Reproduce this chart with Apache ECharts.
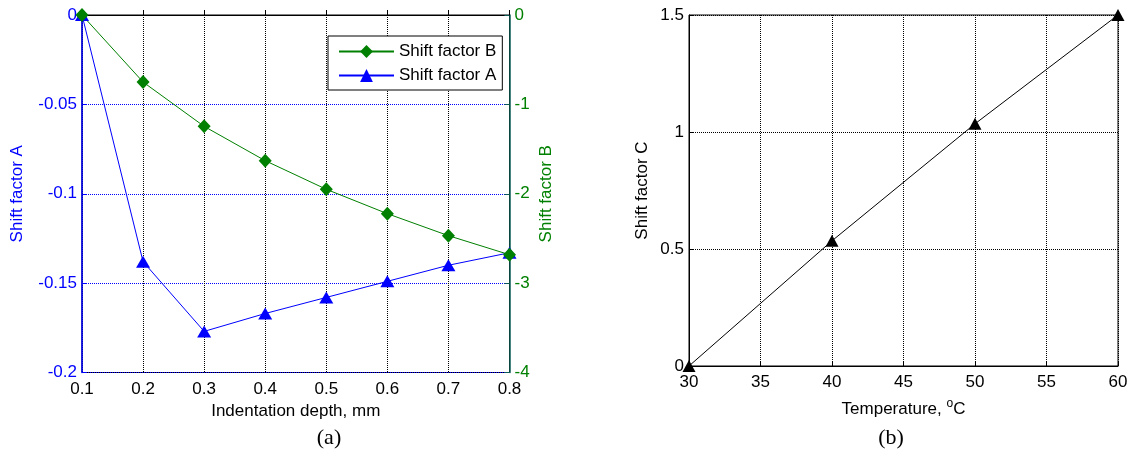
<!DOCTYPE html>
<html>
<head>
<meta charset="utf-8">
<script src="https://cdn.jsdelivr.net/npm/echarts@6/dist/echarts.min.js"></script>
<style>
html,body{margin:0;padding:0;background:#fff;}
#chart{width:1139px;height:453px;}
</style>
</head>
<body>
<div id="chart"></div>
<script>
// ---- data ----
const depth = [0.1, 0.2, 0.3, 0.4, 0.5, 0.6, 0.7, 0.8];
const shiftA = [0, -0.138, -0.177, -0.167, -0.158, -0.149, -0.140, -0.133];
const shiftB = [0, -0.75, -1.246, -1.63, -1.95, -2.223, -2.469, -2.682];
const temperature = [30, 40, 50, 60];
const shiftC = [0, 0.535, 1.035, 1.5];

const FONT = 'Liberation Sans, Arial, sans-serif';
const zip = (xs, ys) => xs.map((x, i) => [x, ys[i]]);
const dotted = [1, 1];

const chart = echarts.init(document.getElementById('chart'), null, {renderer: 'canvas'});
chart.setOption({
  animation: false,
  backgroundColor: '#fff',
  textStyle: {fontFamily: FONT},
  grid: [
    {left: 82, top: 15, width: 427.5, height: 357.5, show: true, borderColor: '#000', borderWidth: 1, backgroundColor: 'transparent'},
    {left: 689, top: 15, width: 429, height: 351, show: true, borderColor: '#000', borderWidth: 1, backgroundColor: 'transparent'}
  ],
  legend: {
    data: ['Shift factor B', 'Shift factor A'],
    orient: 'vertical',
    left: 328, top: 36,
    padding: [7, 6, 6, 10],
    itemGap: 7,
    itemWidth: 55, itemHeight: 16,
    borderColor: '#000', borderWidth: 1, backgroundColor: '#fff',
    textStyle: {fontFamily: FONT, fontSize: 17, color: '#000'}
  },
  xAxis: [
    {
      type: 'value', gridIndex: 0, min: 0.1, max: 0.8, interval: 0.1,
      name: 'Indentation depth, mm', nameLocation: 'middle', nameGap: 30,
      nameTextStyle: {fontFamily: FONT, fontSize: 17, color: '#000'},
      axisLine: {lineStyle: {color: '#000', width: 1}},
      axisTick: {inside: true, length: 5, lineStyle: {color: '#000'}},
      axisLabel: {fontFamily: FONT, fontSize: 17, color: '#000', margin: 8, formatter: v => v.toFixed(1)},
      splitLine: {show: true, lineStyle: {color: '#000', type: dotted, width: 1}}
    },
    {
      type: 'value', gridIndex: 1, min: 30, max: 60, interval: 5,
      name: 'Temperature, {sup|o}C', nameLocation: 'middle', nameGap: 32,
      nameTextStyle: {fontFamily: FONT, fontSize: 17, color: '#000', lineHeight: 22,
        rich: {sup: {fontFamily: FONT, fontSize: 12, color: '#000', verticalAlign: 'top', lineHeight: 12}}},
      axisLine: {lineStyle: {color: '#000', width: 1}},
      axisTick: {inside: true, length: 5, lineStyle: {color: '#000'}},
      axisLabel: {fontFamily: FONT, fontSize: 17, color: '#000', margin: 8},
      splitLine: {show: true, lineStyle: {color: '#000', type: dotted, width: 1}}
    }
  ],
  yAxis: [
    {
      type: 'value', gridIndex: 0, position: 'left', min: -0.2, max: 0, interval: 0.05,
      name: 'Shift factor A', nameLocation: 'middle', nameGap: 56, nameRotate: 90,
      nameTextStyle: {fontFamily: FONT, fontSize: 17, color: '#0000ff'},
      axisLine: {show: true, lineStyle: {color: '#0000ff', width: 1.5}},
      axisTick: {show: true, inside: true, length: 5, lineStyle: {color: '#0000ff'}},
      axisLabel: {fontFamily: FONT, fontSize: 17, color: '#0000ff', margin: 5},
      splitLine: {show: true, lineStyle: {color: '#0000ff', type: dotted, width: 1}}
    },
    {
      type: 'value', gridIndex: 0, position: 'right', min: -4, max: 0, interval: 1,
      name: 'Shift factor B', nameLocation: 'middle', nameGap: 28, nameRotate: 90,
      nameTextStyle: {fontFamily: FONT, fontSize: 17, color: '#008000'},
      axisLine: {show: true, lineStyle: {color: '#0d5c55', width: 1.5}},
      axisTick: {show: true, inside: true, length: 5, lineStyle: {color: '#0d5c55'}},
      axisLabel: {fontFamily: FONT, fontSize: 17, color: '#008000', margin: 5},
      splitLine: {show: false}
    },
    {
      type: 'value', gridIndex: 1, min: 0, max: 1.5, interval: 0.5,
      name: 'Shift factor C', nameLocation: 'middle', nameGap: 38, nameRotate: 90,
      nameTextStyle: {fontFamily: FONT, fontSize: 17, color: '#000'},
      axisLine: {show: true, lineStyle: {color: '#000', width: 1}},
      axisTick: {show: true, inside: true, length: 5, lineStyle: {color: '#000'}},
      axisLabel: {fontFamily: FONT, fontSize: 17, color: '#000', margin: 5},
      splitLine: {show: true, lineStyle: {color: '#000', type: dotted, width: 1}}
    }
  ],
  graphic: [
    {type: 'text', x: 329, y: 438, z: 100, style: {text: '(a)', fill: '#000', font: '22px "Liberation Serif", "Times New Roman", serif', textAlign: 'center', textVerticalAlign: 'middle'}},
    {type: 'text', x: 891, y: 438, z: 100, style: {text: '(b)', fill: '#000', font: '22px "Liberation Serif", "Times New Roman", serif', textAlign: 'center', textVerticalAlign: 'middle'}}
  ],
  series: [
    {
      name: 'Shift factor A', type: 'line', xAxisIndex: 0, yAxisIndex: 0,
      data: zip(depth, shiftA), clip: false,
      symbol: 'triangle', symbolSize: [14, 12],
      lineStyle: {color: '#0000ff', width: 1},
      itemStyle: {color: '#0000ff'}
    },
    {
      name: 'Shift factor B', type: 'line', xAxisIndex: 0, yAxisIndex: 1,
      data: zip(depth, shiftB), clip: false,
      symbol: 'diamond', symbolSize: [13, 14],
      lineStyle: {color: '#008000', width: 1},
      itemStyle: {color: '#008000'}
    },
    {
      name: 'Shift factor C', type: 'line', xAxisIndex: 1, yAxisIndex: 2,
      data: zip(temperature, shiftC), clip: false,
      symbol: 'triangle', symbolSize: [13, 12],
      lineStyle: {color: '#000', width: 1},
      itemStyle: {color: '#000'}
    }
  ]
});
</script>
</body>
</html>
